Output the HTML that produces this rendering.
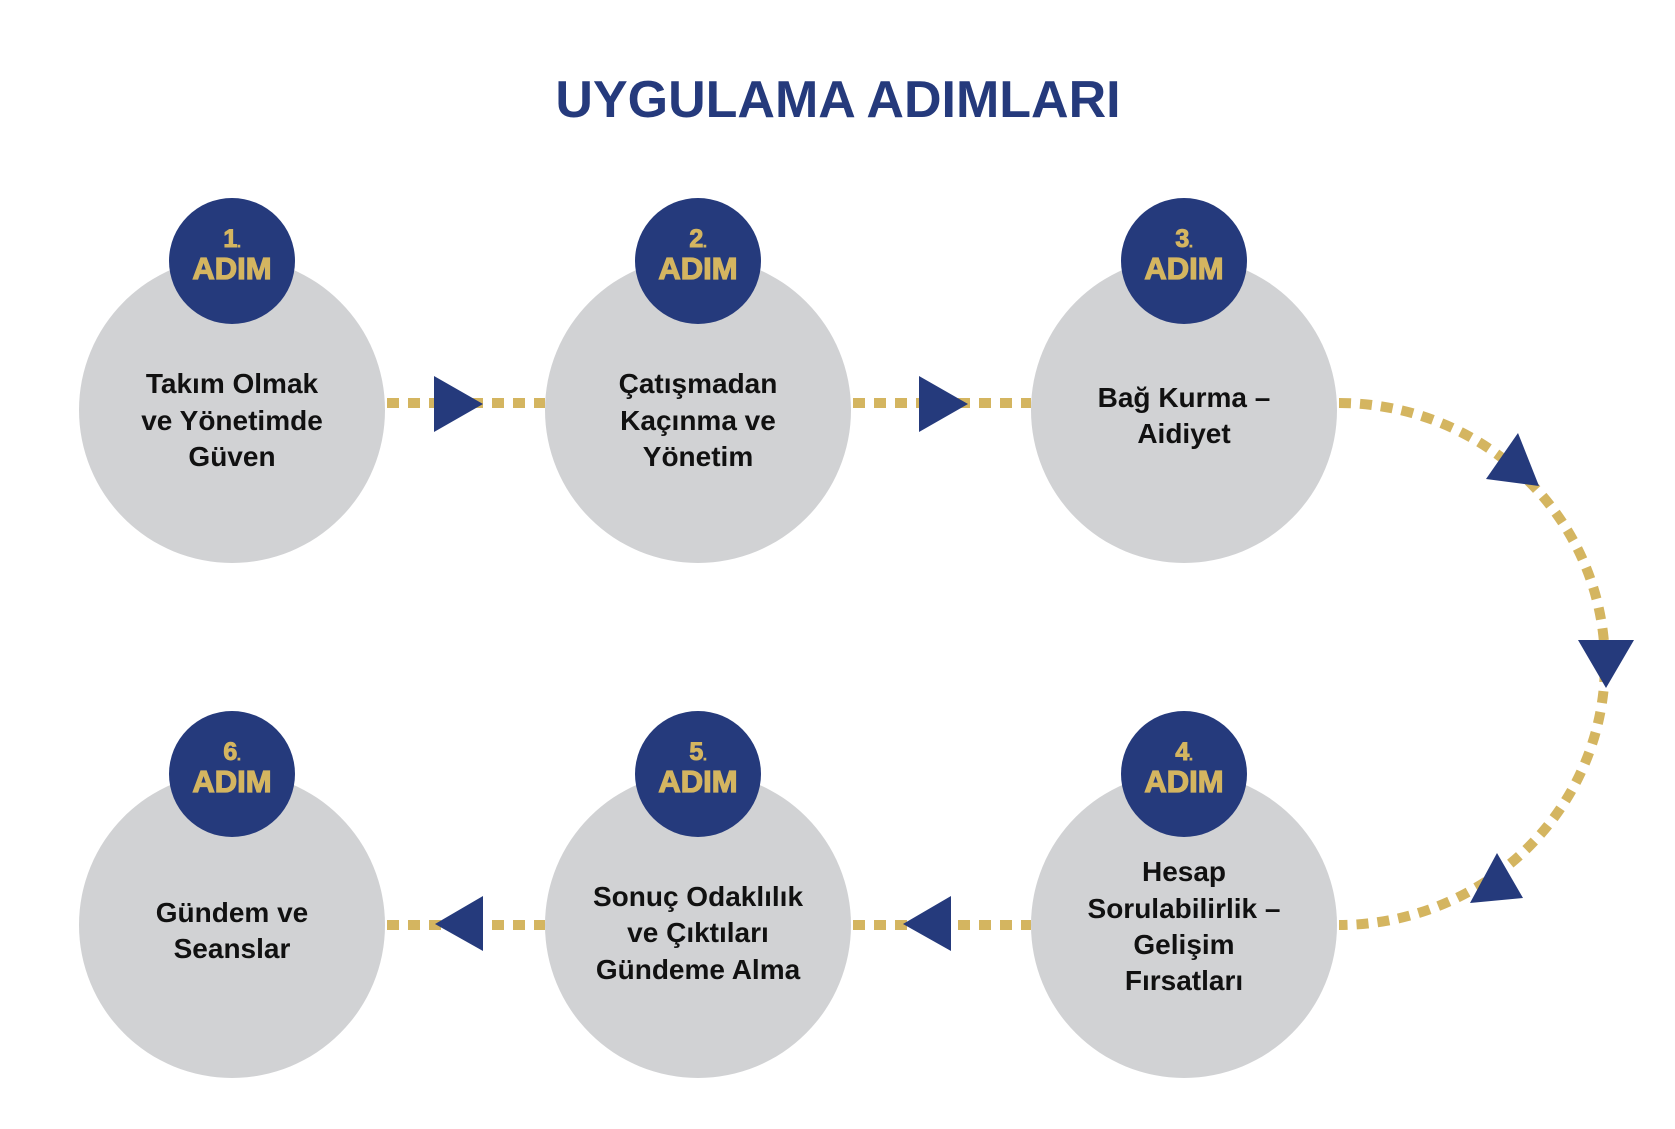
<!DOCTYPE html>
<html><head><meta charset="utf-8"><style>
html,body{margin:0;padding:0;background:#fff;}
svg{display:block;}
.t{font-family:"Liberation Sans",sans-serif;font-weight:bold;text-anchor:middle;}
.lab{font-size:28px;fill:#111;}
.num{font-size:25px;fill:#d4b560;stroke:#d4b560;stroke-width:1;}
.adim{font-size:31px;fill:#d4b560;stroke:#d4b560;stroke-width:1.2;}
</style></head><body>
<svg width="1675" height="1129" viewBox="0 0 1675 1129" xmlns="http://www.w3.org/2000/svg">
<text class="t" x="838" y="117" style="font-size:52px;fill:#253a7c;">UYGULAMA ADIMLARI</text>

<g fill="#d1d2d4">
<circle cx="232" cy="410" r="153"/><circle cx="698" cy="410" r="153"/><circle cx="1184" cy="410" r="153"/>
<circle cx="232" cy="925" r="153"/><circle cx="698" cy="925" r="153"/><circle cx="1184" cy="925" r="153"/>
</g>

<g stroke="#d4b560" stroke-width="10" stroke-dasharray="12 9" fill="none">
<line x1="387" y1="403" x2="545" y2="403"/>
<line x1="853" y1="403" x2="1031" y2="403"/>
<line x1="387" y1="925" x2="545" y2="925"/>
<line x1="853" y1="925" x2="1031" y2="925"/>
<path d="M1339 403 A266 261 0 0 1 1339 925"/>
</g>

<g fill="#253a7c">
<polygon points="434,376 483,404 434,432"/>
<polygon points="919,376 968,404 919,432"/>
<polygon points="483,896 435,924 483,951"/>
<polygon points="951,896 903,924 951,951"/>
<polygon points="1486,479 1518,433 1539,486"/>
<polygon points="1578,640 1634,640 1606,688"/>
<polygon points="1470,903 1497,853 1523,898"/>
<circle cx="232" cy="261" r="63"/><circle cx="698" cy="261" r="63"/><circle cx="1184" cy="261" r="63"/>
<circle cx="232" cy="774" r="63"/><circle cx="698" cy="774" r="63"/><circle cx="1184" cy="774" r="63"/>
</g>

<g class="t">
<text class="num" x="232" y="247">1<tspan font-size="12">.</tspan></text><text class="adim" x="232" y="279">ADIM</text>
<text class="num" x="698" y="247">2<tspan font-size="12">.</tspan></text><text class="adim" x="698" y="279">ADIM</text>
<text class="num" x="1184" y="247">3<tspan font-size="12">.</tspan></text><text class="adim" x="1184" y="279">ADIM</text>
<text class="num" x="232" y="760">6<tspan font-size="12">.</tspan></text><text class="adim" x="232" y="792">ADIM</text>
<text class="num" x="698" y="760">5<tspan font-size="12">.</tspan></text><text class="adim" x="698" y="792">ADIM</text>
<text class="num" x="1184" y="760">4<tspan font-size="12">.</tspan></text><text class="adim" x="1184" y="792">ADIM</text>
</g>

<g class="t lab">
<text x="232" y="393">Takım Olmak</text>
<text x="232" y="430">ve Yönetimde</text>
<text x="232" y="466">Güven</text>
<text x="698" y="393">Çatışmadan</text>
<text x="698" y="430">Kaçınma ve</text>
<text x="698" y="466">Yönetim</text>
<text x="1184" y="407">Bağ Kurma –</text>
<text x="1184" y="443">Aidiyet</text>
<text x="1184" y="881">Hesap</text>
<text x="1184" y="918">Sorulabilirlik –</text>
<text x="1184" y="954">Gelişim</text>
<text x="1184" y="990">Fırsatları</text>
<text x="698" y="906">Sonuç Odaklılık</text>
<text x="698" y="942">ve Çıktıları</text>
<text x="698" y="979">Gündeme Alma</text>
<text x="232" y="922">Gündem ve</text>
<text x="232" y="958">Seanslar</text>
</g>
</svg>
</body></html>
